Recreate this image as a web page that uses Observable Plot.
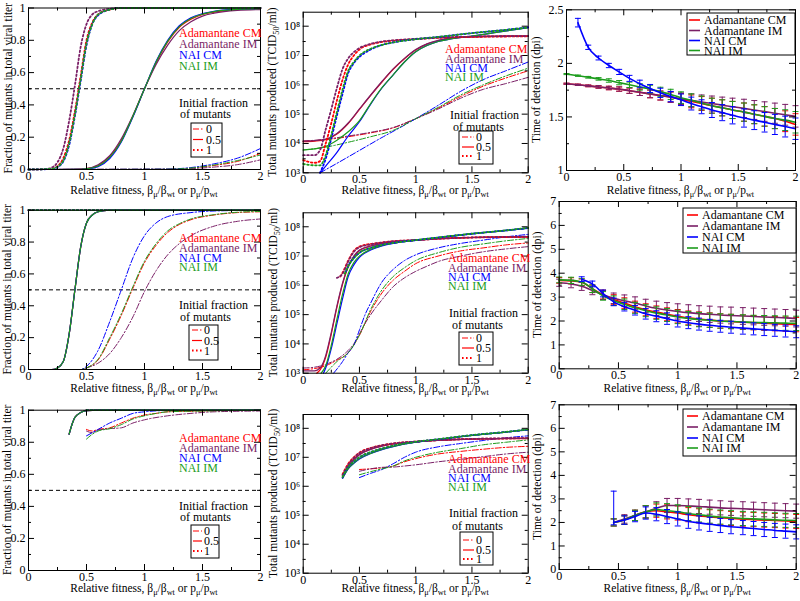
<!DOCTYPE html>
<html>
<head>
<meta charset="utf-8">
<script src="https://cdn.jsdelivr.net/npm/d3@7"></script>
<script src="https://cdn.jsdelivr.net/npm/@observablehq/plot@0.6"></script>
<style>
  html, body { margin:0; padding:0; background:#fff; }
  #chart { position:relative; width:800px; height:601px; overflow:hidden; background:#fff; }
  #chart svg { position:absolute; font-family: "Liberation Serif", "DejaVu Serif", "Times New Roman", serif; }
  #chart svg text, #chart svg tspan { font-family: "Liberation Serif", "DejaVu Serif", "Times New Roman", serif; }
</style>
</head>
<body>
<div id="chart"></div>
<script>
// ---------------- categories / tick labels ----------------
const seriesNames = ["Adamantane CM", "Adamantane IM", "NAI CM", "NAI IM"];
const seriesColors = ["#ff0000", "#7a1f66", "#0000ff", "#1c9c1c"];
const initialFractions = ["0", "0.5", "1"];

const xTicks = [0, 0.5, 1, 1.5, 2];
const xMinorTicks = [0.25, 0.75, 1.25, 1.75];
const fracTicks = [0, 0.2, 0.4, 0.6, 0.8, 1];
const fracMinorTicks = [0.1, 0.3, 0.5, 0.7, 0.9];
const logTicks = [1e3, 1e4, 1e5, 1e6, 1e7, 1e8];
const logMinorTicks = [3e3, 3e4, 3e5, 3e6, 3e7];
const detTicksA = [1, 1.5, 2, 2.5];
const detMinorTicksA = [1.25, 1.75, 2.25];
const detTicksB = [0, 1, 2, 3, 4, 5, 6, 7];
const detMinorTicksB = [0.5, 1.5, 2.5, 3.5, 4.5, 5.5, 6.5];
const supDigits = {3: "³", 4: "⁴", 5: "⁵", 6: "⁶", 7: "⁷", 8: "⁸"};

// ---------------- data: fraction of mutants (row 1) ----------------
// order in each array: [Adamantane CM, Adamantane IM, NAI CM, NAI IM]
const p1_f1 = [
  [[0,0],[0.2,0.005],[0.25,0.02],[0.3,0.07],[0.35,0.18],[0.4,0.36],[0.45,0.58],[0.5,0.8],[0.55,0.91],[0.6,0.96],[0.7,0.99],[0.8,1],[2,1]],
  [[0,0],[0.15,0.003],[0.2,0.012],[0.25,0.045],[0.3,0.13],[0.35,0.3],[0.4,0.52],[0.45,0.76],[0.5,0.9],[0.55,0.96],[0.6,0.98],[0.7,0.995],[0.8,1],[2,1]],
  [[0,0],[0.2,0.003],[0.25,0.015],[0.3,0.05],[0.35,0.15],[0.4,0.33],[0.45,0.55],[0.5,0.77],[0.55,0.9],[0.6,0.955],[0.7,0.99],[0.8,1],[2,1]],
  [[0,0],[0.2,0.004],[0.25,0.017],[0.3,0.055],[0.35,0.16],[0.4,0.34],[0.45,0.56],[0.5,0.78],[0.55,0.9],[0.6,0.96],[0.7,0.99],[0.8,1],[2,1]]
];
const p1_f05 = [
  [[0,0],[0.4,0.0005],[0.5,0.005],[0.6,0.025],[0.7,0.08],[0.8,0.18],[0.9,0.33],[1.0,0.5],[1.1,0.66],[1.2,0.79],[1.3,0.88],[1.4,0.93],[1.5,0.96],[1.6,0.975],[1.8,0.99],[2,0.995]],
  [[0,0],[0.4,0.0005],[0.5,0.006],[0.6,0.03],[0.7,0.085],[0.8,0.19],[0.9,0.335],[1.0,0.5],[1.1,0.65],[1.2,0.77],[1.3,0.86],[1.4,0.915],[1.5,0.95],[1.6,0.968],[1.8,0.985],[2,0.99]],
  [[0,0],[0.4,0.0002],[0.5,0.003],[0.6,0.018],[0.7,0.068],[0.8,0.17],[0.9,0.325],[1.0,0.5],[1.1,0.67],[1.2,0.8],[1.3,0.89],[1.4,0.94],[1.5,0.965],[1.6,0.98],[1.8,0.993],[2,0.997]],
  [[0,0],[0.4,0.0004],[0.5,0.004],[0.6,0.022],[0.7,0.075],[0.8,0.175],[0.9,0.33],[1.0,0.5],[1.1,0.665],[1.2,0.795],[1.3,0.885],[1.4,0.935],[1.5,0.962],[1.6,0.978],[1.8,0.991],[2,0.996]]
];
const p1_f0 = [
  [[0,0],[1.2,0.002],[1.4,0.008],[1.6,0.025],[1.8,0.05],[2,0.1]],
  [[0,0],[1.2,0.001],[1.4,0.005],[1.6,0.015],[1.8,0.03],[2,0.06]],
  [[0,0],[1.2,0.003],[1.4,0.012],[1.6,0.035],[1.8,0.07],[2,0.13]],
  [[0,0],[1.2,0.002],[1.4,0.009],[1.6,0.028],[1.8,0.055],[2,0.09]]
];

// ---------------- data: fraction of mutants (row 2) ----------------
const p4_f1_all = [[0,1],[2,1]];
const p4_f05_all = [[0,0],[0.2,0],[0.25,0.01],[0.3,0.05],[0.35,0.22],[0.4,0.5],[0.45,0.77],[0.5,0.92],[0.55,0.97],[0.6,0.99],[0.7,1],[2,1]];
const p4_f0 = [
  [[0,0],[0.45,0],[0.5,0.01],[0.6,0.06],[0.7,0.19],[0.8,0.34],[0.9,0.51],[1.0,0.67],[1.1,0.78],[1.2,0.86],[1.3,0.91],[1.4,0.94],[1.6,0.97],[1.8,0.985],[2,0.99]],
  [[0,0],[0.45,0],[0.5,0.01],[0.6,0.04],[0.7,0.1],[0.8,0.2],[0.9,0.33],[1.0,0.49],[1.1,0.62],[1.2,0.72],[1.3,0.79],[1.4,0.84],[1.6,0.9],[1.8,0.93],[2,0.945]],
  [[0,0],[0.45,0],[0.5,0.02],[0.6,0.12],[0.7,0.3],[0.8,0.5],[0.9,0.7],[1.0,0.84],[1.1,0.92],[1.2,0.96],[1.4,0.985],[1.6,0.995],[2,1]],
  [[0,0],[0.45,0],[0.5,0.01],[0.6,0.065],[0.7,0.2],[0.8,0.35],[0.9,0.52],[1.0,0.68],[1.1,0.79],[1.2,0.87],[1.3,0.915],[1.4,0.945],[1.6,0.972],[1.8,0.987],[2,0.992]]
];

// ---------------- data: fraction of mutants (row 3) ----------------
const p7_f1_all = [[0.5,1],[2,1]];
const p7_f05_all = [[0.35,0.85],[0.37,0.9],[0.4,0.955],[0.45,0.985],[0.5,0.997],[0.6,1],[2,1]];
const p7_f0 = [
  [[0.5,0.88],[0.55,0.87],[0.6,0.88],[0.7,0.89],[0.8,0.92],[0.9,0.95],[1.0,0.97],[1.1,0.98],[1.2,0.99],[1.5,0.995],[2,1]],
  [[0.5,0.87],[0.55,0.86],[0.6,0.875],[0.7,0.885],[0.8,0.89],[0.9,0.92],[1.0,0.94],[1.2,0.965],[1.4,0.98],[1.6,0.99],[2,0.995]],
  [[0.5,0.84],[0.55,0.86],[0.6,0.88],[0.7,0.92],[0.8,0.95],[0.9,0.98],[1.0,0.99],[1.2,0.998],[2,1]],
  [[0.5,0.82],[0.55,0.85],[0.6,0.87],[0.7,0.885],[0.8,0.91],[0.9,0.945],[1.0,0.965],[1.1,0.98],[1.2,0.99],[1.5,0.995],[2,1]]
];

// ---------------- data: total mutants produced (row 1) ----------------
const p2_f1 = [
  [[0,2.7e3],[0.1,2.2e3],[0.15,2.5e3],[0.2,1e4],[0.25,5e4],[0.3,3e5],[0.35,1.5e6],[0.4,5e6],[0.45,1e7],[0.5,1.6e7],[0.6,2.4e7],[0.7,2.9e7],[0.8,3.2e7],[1.0,3.6e7],[1.2,4e7],[1.5,4.3e7],[2,4.5e7]],
  [[0,4e3],[0.1,4e3],[0.15,6e3],[0.2,3e4],[0.25,1.5e5],[0.3,8e5],[0.35,3.5e6],[0.4,8e6],[0.45,1.3e7],[0.5,1.8e7],[0.6,2.5e7],[0.7,3e7],[0.8,3.3e7],[1.0,3.7e7],[1.2,4.1e7],[1.5,4.4e7],[2,4.6e7]],
  [[0.15,1e3],[0.2,3e3],[0.25,1.5e4],[0.3,9e4],[0.35,5e5],[0.4,2.5e6],[0.45,5.5e6],[0.5,9e6],[0.6,1.6e7],[0.7,2.3e7],[0.8,2.8e7],[1.0,3.6e7],[1.2,4.3e7],[1.5,5.8e7],[1.8,7.5e7],[2,9.2e7]],
  [[0,2e3],[0.1,1.8e3],[0.15,1.8e3],[0.2,4e3],[0.25,2e4],[0.3,1.2e5],[0.35,7e5],[0.4,3e6],[0.45,6e6],[0.5,1e7],[0.6,1.7e7],[0.7,2.3e7],[0.8,2.8e7],[1.0,3.6e7],[1.2,4.3e7],[1.5,5.8e7],[1.8,7.5e7],[2,9e7]]
];
const p2_f05 = [
  [[0,1.15e4],[0.1,1.2e4],[0.2,1.35e4],[0.3,2.1e4],[0.4,4.8e4],[0.5,1.45e5],[0.6,4.4e5],[0.7,1.25e6],[0.8,3.4e6],[0.9,7.8e6],[1.0,1.55e7],[1.1,2.45e7],[1.2,3.2e7],[1.3,3.8e7],[1.5,4.3e7],[1.7,4.5e7],[2,4.6e7]],
  [[0,1.2e4],[0.1,1.25e4],[0.2,1.4e4],[0.3,2.2e4],[0.4,5e4],[0.5,1.5e5],[0.6,4.5e5],[0.7,1.3e6],[0.8,3.5e6],[0.9,8e6],[1.0,1.6e7],[1.1,2.5e7],[1.2,3.3e7],[1.3,3.9e7],[1.5,4.4e7],[1.7,4.6e7],[2,4.7e7]],
  [[0.15,1e3],[0.2,1.7e3],[0.3,5e3],[0.4,1.8e4],[0.5,5.5e4],[0.6,2.2e5],[0.7,7.8e5],[0.8,2.2e6],[0.9,6e6],[1.0,1.35e7],[1.1,2.2e7],[1.2,3e7],[1.3,3.6e7],[1.5,4.6e7],[1.7,6e7],[2,9e7]],
  [[0,6e3],[0.1,6.5e3],[0.2,8e3],[0.3,1.3e4],[0.4,2.5e4],[0.5,6e4],[0.6,2.3e5],[0.7,8e5],[0.8,2.2e6],[0.9,6e6],[1.0,1.35e7],[1.1,2.2e7],[1.2,3e7],[1.3,3.6e7],[1.5,4.6e7],[1.7,6e7],[2,9e7]]
];
const p2_f0 = [
  [[0,1.2e4],[0.2,1.35e4],[0.4,1.7e4],[0.6,2.3e4],[0.8,3.4e4],[1.0,7e4],[1.2,1.6e5],[1.4,4e5],[1.6,9e5],[1.8,1.7e6],[2,3e6]],
  [[0,1.2e4],[0.2,1.4e4],[0.4,1.8e4],[0.6,2.4e4],[0.8,3.5e4],[1.0,7e4],[1.2,1.5e5],[1.4,3.5e5],[1.6,7e5],[1.8,1.1e6],[2,1.8e6]],
  [[0.15,1e3],[0.3,2.1e3],[0.5,5.8e3],[0.7,1.6e4],[0.85,3.3e4],[1.0,7e4],[1.2,2e5],[1.4,6e5],[1.6,1.5e6],[1.8,3e6],[2,6e6]],
  [[0,6e3],[0.2,7.5e3],[0.4,1.1e4],[0.6,1.7e4],[0.8,2.8e4],[1.0,7e4],[1.2,1.7e5],[1.4,4.5e5],[1.6,1e6],[1.8,2e6],[2,3.7e6]]
];

// ---------------- data: total mutants produced (row 2) ----------------
const p5_f1 = [
  [[0.33,2e6],[0.35,2.7e6],[0.4,7e6],[0.45,1.5e7],[0.5,2.1e7],[0.6,2.6e7],[0.7,2.9e7],[0.8,3.2e7],[1.0,3.5e7],[1.2,3.9e7],[1.5,4.3e7],[2,4.5e7]],
  [[0.3,1.8e6],[0.35,2.5e6],[0.4,6.5e6],[0.45,1.4e7],[0.5,2e7],[0.6,2.5e7],[0.7,2.9e7],[0.8,3.2e7],[1.0,3.5e7],[1.2,3.9e7],[1.5,4.3e7],[2,4.6e7]],
  [[0.38,3e6],[0.4,4.5e6],[0.45,8.5e6],[0.5,1.3e7],[0.6,1.9e7],[0.7,2.4e7],[0.8,2.8e7],[1.0,3.5e7],[1.2,4.3e7],[1.5,5.8e7],[1.8,7.5e7],[2,9e7]],
  [[0.37,2.5e6],[0.4,4.5e6],[0.45,8.5e6],[0.5,1.3e7],[0.6,1.9e7],[0.7,2.4e7],[0.8,2.8e7],[1.0,3.5e7],[1.2,4.3e7],[1.5,5.8e7],[1.8,7.5e7],[2,9.2e7]]
];
const p5_f05 = [
  [[0.12,1e3],[0.15,1.3e3],[0.2,3.5e3],[0.25,2.2e4],[0.3,1.8e5],[0.35,1.1e6],[0.4,4.2e6],[0.45,9.5e6],[0.5,1.55e7],[0.6,2.2e7],[0.7,2.7e7],[0.8,3e7],[1.0,3.5e7],[1.2,3.9e7],[1.5,4.3e7],[2,4.5e7]],
  [[0,1.2e3],[0.1,1.2e3],[0.15,1.5e3],[0.2,4e3],[0.25,2.5e4],[0.3,2e5],[0.35,1.2e6],[0.4,4.5e6],[0.45,1e7],[0.5,1.6e7],[0.6,2.2e7],[0.7,2.7e7],[0.8,3e7],[1.0,3.5e7],[1.2,3.9e7],[1.5,4.3e7],[2,4.6e7]],
  [[0.18,1e3],[0.2,1.5e3],[0.25,7e3],[0.3,5e4],[0.35,3.5e5],[0.4,2e6],[0.45,5e6],[0.5,9e6],[0.6,1.6e7],[0.7,2.2e7],[0.8,2.7e7],[1.0,3.4e7],[1.2,4.2e7],[1.5,5.7e7],[1.8,7.4e7],[2,9e7]],
  [[0.16,1e3],[0.2,1.8e3],[0.25,9e3],[0.3,7e4],[0.35,5e5],[0.4,2.5e6],[0.45,6e6],[0.5,1e7],[0.6,1.7e7],[0.7,2.3e7],[0.8,2.8e7],[1.0,3.5e7],[1.2,4.3e7],[1.5,5.8e7],[1.8,7.5e7],[2,9e7]]
];
const p5_f0 = [
  [[0,1.3e3],[0.2,1.8e3],[0.3,2.8e3],[0.4,5e3],[0.5,2e4],[0.6,1.3e5],[0.7,5.5e5],[0.8,1.5e6],[0.9,3e6],[1.0,5.5e6],[1.2,1e7],[1.4,1.5e7],[1.6,1.9e7],[1.8,2.4e7],[2,2.8e7]],
  [[0,1.5e3],[0.1,1.6e3],[0.2,2e3],[0.3,3e3],[0.4,6e3],[0.45,1e4],[0.5,2.2e4],[0.55,5e4],[0.6,1e5],[0.7,3.2e5],[0.8,9e5],[0.9,1.8e6],[1.0,3e6],[1.1,4.5e6],[1.2,6.5e6],[1.4,1e7],[1.6,1.4e7],[1.8,1.75e7],[2,2.1e7]],
  [[0.27,1e3],[0.35,2.5e3],[0.4,5e3],[0.45,9e3],[0.5,3e4],[0.55,1e5],[0.6,2.5e5],[0.7,1.3e6],[0.8,3.5e6],[0.9,7e6],[1.0,1.1e7],[1.2,1.9e7],[1.4,2.7e7],[1.6,3.5e7],[1.8,4.5e7],[2,5.5e7]],
  [[0.2,1e3],[0.3,2.5e3],[0.4,5e3],[0.5,2e4],[0.6,1.5e5],[0.7,7e5],[0.8,2e6],[0.9,4e6],[1.0,7e6],[1.2,1.3e7],[1.4,2e7],[1.6,2.6e7],[1.8,3.3e7],[2,4e7]]
];

// ---------------- data: total mutants produced (row 3) ----------------
const p8_f1 = [
  [[0.35,2.6e6],[0.4,6e6],[0.45,1e7],[0.5,1.45e7],[0.6,2.1e7],[0.7,2.6e7],[0.8,3e7],[1.0,3.5e7],[1.2,3.9e7],[1.5,4.3e7],[2,4.5e7]],
  [[0.35,2.4e6],[0.4,5.5e6],[0.45,9.5e6],[0.5,1.4e7],[0.6,2.05e7],[0.7,2.6e7],[0.8,3e7],[1.0,3.5e7],[1.2,3.9e7],[1.5,4.3e7],[2,4.6e7]],
  [[0.35,2e6],[0.4,4.5e6],[0.45,7e6],[0.5,1e7],[0.6,1.5e7],[0.7,2e7],[0.8,2.5e7],[1.0,3.4e7],[1.2,4.2e7],[1.5,5.8e7],[1.8,7.5e7],[2,9e7]],
  [[0.35,2.1e6],[0.4,4.6e6],[0.45,7.2e6],[0.5,1.02e7],[0.6,1.52e7],[0.7,2.02e7],[0.8,2.52e7],[1.0,3.42e7],[1.2,4.22e7],[1.5,5.82e7],[1.8,7.5e7],[2,9.2e7]]
];
const p8_f05 = [
  [[0.35,2.2e6],[0.4,5e6],[0.45,8.5e6],[0.5,1.25e7],[0.6,1.9e7],[0.7,2.45e7],[0.8,2.9e7],[1.0,3.45e7],[1.2,3.85e7],[1.5,4.25e7],[2,4.5e7]],
  [[0.35,2.1e6],[0.4,4.8e6],[0.45,8.2e6],[0.5,1.22e7],[0.6,1.88e7],[0.7,2.42e7],[0.8,2.88e7],[1.0,3.45e7],[1.2,3.85e7],[1.5,4.25e7],[2,4.55e7]],
  [[0.35,1.9e6],[0.4,4e6],[0.45,6.2e6],[0.5,8.8e6],[0.6,1.35e7],[0.7,1.85e7],[0.8,2.35e7],[1.0,3.3e7],[1.2,4.1e7],[1.5,5.7e7],[1.8,7.4e7],[2,9e7]],
  [[0.35,1.9e6],[0.4,4.1e6],[0.45,6.3e6],[0.5,9e6],[0.6,1.37e7],[0.7,1.87e7],[0.8,2.37e7],[1.0,3.32e7],[1.2,4.12e7],[1.5,5.72e7],[1.8,7.4e7],[2,9e7]]
];
const p8_f0 = [
  [[0.5,3.8e6],[0.6,4e6],[0.7,4.3e6],[0.8,5e6],[0.9,7e6],[1.0,9e6],[1.2,1.3e7],[1.4,1.6e7],[1.6,1.9e7],[1.8,2.2e7],[2,2.4e7]],
  [[0.5,3.3e6],[0.6,4e6],[0.7,4.5e6],[0.8,4.6e6],[0.9,5e6],[1.0,5.5e6],[1.2,7e6],[1.4,8.5e6],[1.6,1.05e7],[1.8,1.3e7],[2,1.5e7]],
  [[0.5,2e6],[0.6,2.8e6],[0.7,3.8e6],[0.8,6e6],[0.9,1e7],[1.0,1.5e7],[1.2,2.3e7],[1.4,3e7],[1.6,3.8e7],[1.8,4.7e7],[2,5.5e7]],
  [[0.5,2.5e6],[0.6,3.2e6],[0.7,4e6],[0.8,5e6],[0.9,7.5e6],[1.0,1e7],[1.2,1.5e7],[1.4,2e7],[1.6,2.7e7],[1.8,3.3e7],[2,4e7]]
];

// ---------------- data: time of detection ----------------
const detX = [0,0.1,0.19,0.28,0.37,0.46,0.55,0.64,0.73,0.82,0.91,1.0,1.09,1.18,1.27,1.36,1.45,1.55,1.64,1.73,1.82,1.91,2.0];
const _ = null;
const p3_y = [
  [1.81,1.80,1.79,1.78,1.77,1.76,1.745,1.73,1.715,1.70,1.685,1.665,1.645,1.625,1.605,1.585,1.565,1.545,1.525,1.505,1.485,1.46,1.43],
  [1.81,1.80,1.79,1.78,1.77,1.76,1.745,1.73,1.715,1.70,1.685,1.67,1.655,1.64,1.625,1.61,1.595,1.58,1.565,1.55,1.535,1.52,1.505],
  [_,2.38,2.15,2.05,1.98,1.92,1.86,1.81,1.765,1.725,1.69,1.66,1.625,1.595,1.565,1.54,1.515,1.49,1.47,1.45,1.43,1.41,1.39],
  [1.90,1.885,1.87,1.855,1.84,1.82,1.80,1.78,1.76,1.735,1.71,1.68,1.655,1.63,1.605,1.585,1.565,1.545,1.525,1.505,1.485,1.47,1.45]
];
const p3_err = [
  [0.005,0.006,0.008,0.012,0.016,0.02,0.025,0.03,0.036,0.042,0.048,0.054,0.06,0.065,0.07,0.075,0.08,0.085,0.088,0.091,0.094,0.097,0.1],
  [0.005,0.006,0.008,0.012,0.016,0.02,0.025,0.03,0.036,0.042,0.048,0.054,0.06,0.065,0.07,0.075,0.08,0.085,0.088,0.091,0.094,0.097,0.1],
  [_,0.04,0.02,0.018,0.02,0.024,0.028,0.033,0.038,0.043,0.048,0.054,0.06,0.065,0.07,0.075,0.08,0.085,0.088,0.091,0.094,0.097,0.1],
  [0.005,0.006,0.008,0.012,0.016,0.02,0.025,0.03,0.036,0.042,0.048,0.054,0.06,0.065,0.07,0.075,0.08,0.085,0.088,0.091,0.094,0.097,0.1]
];
const p6_y = [
  [3.7,3.68,3.62,3.35,3.1,2.9,2.75,2.6,2.47,2.37,2.28,2.2,2.13,2.08,2.04,2.0,1.98,1.95,1.93,1.91,1.89,1.87,1.85],
  [3.6,3.55,3.45,3.28,3.1,2.95,2.85,2.75,2.63,2.53,2.46,2.4,2.35,2.31,2.28,2.25,2.23,2.21,2.19,2.17,2.15,2.13,2.1],
  [_,_,3.75,3.55,3.15,2.8,2.6,2.45,2.3,2.2,2.1,2.0,1.93,1.87,1.82,1.78,1.74,1.7,1.67,1.64,1.61,1.58,1.55],
  [3.72,3.7,3.63,3.35,3.05,2.85,2.7,2.55,2.43,2.33,2.25,2.17,2.11,2.06,2.03,2.0,1.98,1.96,1.94,1.93,1.92,1.91,1.9]
];
const p6_err = [
  [0.12,0.13,0.14,0.16,0.18,0.2,0.22,0.23,0.25,0.26,0.27,0.28,0.29,0.3,0.3,0.3,0.3,0.3,0.3,0.3,0.3,0.3,0.3],
  [0.15,0.16,0.17,0.18,0.2,0.22,0.24,0.26,0.28,0.3,0.31,0.32,0.33,0.33,0.34,0.34,0.35,0.35,0.35,0.35,0.35,0.35,0.35],
  [_,_,0.1,0.12,0.14,0.16,0.18,0.2,0.22,0.23,0.24,0.25,0.25,0.25,0.25,0.25,0.25,0.25,0.25,0.25,0.25,0.25,0.25],
  [0.12,0.13,0.14,0.16,0.18,0.2,0.22,0.23,0.25,0.26,0.27,0.28,0.29,0.3,0.3,0.3,0.3,0.3,0.3,0.3,0.3,0.3,0.3]
];
const p9_y = [
  [_,_,_,_,_,2.0,2.1,2.3,2.45,2.5,2.45,2.4,2.33,2.28,2.24,2.2,2.17,2.14,2.12,2.1,2.08,2.06,2.04],
  [_,_,_,_,_,2.0,2.15,2.3,2.45,2.6,2.72,2.72,2.7,2.68,2.65,2.62,2.6,2.58,2.56,2.54,2.52,2.5,2.48],
  [_,_,_,_,_,2.0,2.1,2.25,2.4,2.35,2.25,2.15,2.05,1.98,1.92,1.87,1.82,1.78,1.74,1.7,1.66,1.63,1.6],
  [_,_,_,_,_,2.0,2.1,2.3,2.45,2.55,2.5,2.45,2.38,2.32,2.27,2.23,2.2,2.17,2.15,2.13,2.11,2.09,2.08]
];
const p9_err = [
  [_,_,_,_,_,0.15,0.18,0.22,0.26,0.28,0.3,0.3,0.3,0.3,0.3,0.3,0.3,0.3,0.3,0.3,0.3,0.3,0.3],
  [_,_,_,_,_,0.15,0.18,0.22,0.26,0.28,0.3,0.3,0.3,0.3,0.3,0.3,0.3,0.3,0.3,0.3,0.3,0.3,0.3],
  [_,_,_,_,_,[0.1,1.33],0.18,0.22,0.26,0.28,0.3,0.3,0.3,0.3,0.3,0.3,0.3,0.3,0.3,0.3,0.3,0.3,0.3],
  [_,_,_,_,_,0.15,0.18,0.22,0.26,0.28,0.3,0.3,0.3,0.3,0.3,0.3,0.3,0.3,0.3,0.3,0.3,0.3,0.3]
];

// ---------------- drawing ----------------
const FONT = '"Liberation Serif", "DejaVu Serif", "Times New Roman", serif';
const lineStyles = {
  "0":   {strokeWidth: 1,   strokeDasharray: "6,2,1.5,2"},
  "0.5": {strokeWidth: 1.2, strokeDasharray: undefined},
  "1":   {strokeWidth: 1.8, strokeDasharray: "1.6,2.4"}
};
const capSymbol = {draw(ctx, size) { const w = Math.sqrt(size / Math.PI); ctx.moveTo(-w, 0); ctx.lineTo(w, 0); }};
const supFmt = d => "10" + supDigits[Math.round(Math.log10(d))];
const plainFmt = d => String(d);

function richText(t, parts) {
  let shift = 0;
  for (const [s, kind] of parts) {
    const target = kind === "sub" ? 3 : 0;
    const ts = t.append("tspan").attr("dy", target - shift).text(s);
    if (kind === "sub") ts.attr("font-size", "0.72em");
    shift = target;
  }
}

function panel(cfg) {
  const [L, T, W, H] = cfg.cell;
  const [fx0, fx1] = cfg.fx, [fy0, fy1] = cfg.fy;
  const fw = fx1 - fx0, fh = fy1 - fy0;
  const MAJ = 6, MIN = 3;
  const marks = [];
  if (cfg.refLine != null) marks.push(Plot.ruleY([cfg.refLine], {stroke: "black", strokeWidth: 1, strokeDasharray: "4,3"}));
  const order = [0, 1, 2, 3];
  for (const grp of (cfg.groups || [])) {
    for (const i of order) {
      const st = lineStyles[grp.frac];
      marks.push(Plot.line(grp.data[i], {x: d => d[0], y: d => d[1], stroke: seriesColors[i],
        strokeWidth: st.strokeWidth, strokeDasharray: st.strokeDasharray, curve: "monotone-x"}));
    }
  }
  if (cfg.det) {
    const drawOrder = [0, 1, 3, 2];
    for (const i of drawOrder) {
      const pts = [];
      detX.forEach((x, k) => {
        const y = cfg.det.y[i][k], e = cfg.det.err[i][k];
        if (y == null) return;
        const lo = Array.isArray(e) ? e[0] : e, hi = Array.isArray(e) ? e[1] : e;
        pts.push({x, y, lo: y - lo, hi: y + hi});
      });
      marks.push(Plot.ruleX(pts, {x: "x", y1: "lo", y2: "hi", stroke: seriesColors[i], strokeWidth: 1}));
      marks.push(Plot.dot(pts, {x: "x", y: "lo", symbol: capSymbol, r: 3, stroke: seriesColors[i], fill: "none", strokeWidth: 1}));
      marks.push(Plot.dot(pts, {x: "x", y: "hi", symbol: capSymbol, r: 3, stroke: seriesColors[i], fill: "none", strokeWidth: 1}));
      marks.push(Plot.line(pts, {x: "x", y: "y", stroke: seriesColors[i], strokeWidth: 1.6, curve: "monotone-x"}));
    }
  }
  // inward ticks on all four sides
  marks.push(
    Plot.ruleX(xTicks, {insetTop: fh - MAJ, stroke: "black"}),
    Plot.ruleX(xTicks, {insetBottom: fh - MAJ, stroke: "black"}),
    Plot.ruleX(xMinorTicks, {insetTop: fh - MIN, stroke: "black"}),
    Plot.ruleX(xMinorTicks, {insetBottom: fh - MIN, stroke: "black"}),
    Plot.ruleY(cfg.y.ticks, {insetRight: fw - MAJ, stroke: "black"}),
    Plot.ruleY(cfg.y.ticks, {insetLeft: fw - MAJ, stroke: "black"}),
    Plot.ruleY(cfg.y.minor, {insetRight: fw - MIN, stroke: "black"}),
    Plot.ruleY(cfg.y.minor, {insetLeft: fw - MIN, stroke: "black"}),
    Plot.frame({stroke: "black", strokeWidth: 1})
  );
  const yOpts = {domain: cfg.y.domain, ticks: cfg.y.ticks, tickSize: 0, tickPadding: 3, label: null,
                 tickFormat: cfg.y.format || plainFmt};
  if (cfg.y.type) yOpts.type = cfg.y.type;
  const svg = Plot.plot({
    width: W, height: H,
    marginLeft: fx0 - L, marginRight: L + W - fx1, marginTop: fy0 - T, marginBottom: T + H - fy1,
    x: {domain: [0, 2], ticks: xTicks, tickSize: 0, tickPadding: 2, label: null, tickFormat: plainFmt},
    y: yOpts,
    style: {fontSize: "12px", color: "black", background: "transparent", overflow: "visible"},
    marks
  });
  svg.setAttribute("font-family", FONT);
  svg.setAttribute("font-size", "12");
  svg.style.position = "absolute";
  svg.style.left = L + "px";
  svg.style.top = T + "px";
  document.getElementById("chart").appendChild(svg);
  const g = d3.select(svg).append("g").attr("transform", `translate(${-L},${-T})`)
    .attr("font-family", FONT).attr("fill", "black").attr("text-anchor", "start");

  // axis titles
  const xl = g.append("text").attr("x", (fx0 + fx1) / 2).attr("y", cfg.xLabelY + 4)
    .attr("text-anchor", "middle").attr("font-size", 11.5);
  richText(xl, [["Relative fitness, β"], ["μ", "sub"], ["/β"], ["wt", "sub"], [" or p"], ["μ", "sub"], ["/p"], ["wt", "sub"]]);
  const yl = g.append("text").attr("transform", `translate(${cfg.yLabelX},${(fy0 + fy1) / 2}) rotate(-90)`)
    .attr("x", 0).attr("y", 4).attr("text-anchor", "middle").attr("font-size", 11.5);
  richText(yl, cfg.yLabel);

  // legends
  if (cfg.colorLegend) {
    const {x, ys} = cfg.colorLegend;
    ys.forEach((y, i) => g.append("text").attr("x", x).attr("y", y + 4).attr("font-size", 12)
      .attr("fill", seriesColors[i]).text(seriesNames[i]));
  }
  if (cfg.fracLegend) {
    const f = cfg.fracLegend;
    g.append("text").attr("x", f.tx[0]).attr("y", f.ty[0] + 4).attr("font-size", 12).text("Initial fraction");
    g.append("text").attr("x", f.tx[1]).attr("y", f.ty[1] + 4).attr("font-size", 12).text("of mutants");
    g.append("rect").attr("x", f.box[0]).attr("y", f.box[1]).attr("width", f.box[2] - f.box[0])
      .attr("height", f.box[3] - f.box[1]).attr("fill", "white").attr("stroke", "black").attr("stroke-width", 1);
    initialFractions.forEach((lab, i) => {
      const st = lineStyles[lab];
      g.append("line").attr("x1", f.sx[0]).attr("x2", f.sx[1]).attr("y1", f.ys[i]).attr("y2", f.ys[i])
        .attr("stroke", seriesColors[0]).attr("stroke-width", st.strokeWidth)
        .attr("stroke-dasharray", st.strokeDasharray || null);
      g.append("text").attr("x", f.sx[2]).attr("y", f.ys[i] + 4).attr("font-size", 12).text(lab);
    });
  }
  if (cfg.seriesLegend) {
    const s = cfg.seriesLegend;
    g.append("rect").attr("x", s.box[0]).attr("y", s.box[1]).attr("width", s.box[2] - s.box[0])
      .attr("height", s.box[3] - s.box[1]).attr("fill", "white").attr("stroke", "black").attr("stroke-width", 1);
    seriesNames.forEach((name, i) => {
      g.append("line").attr("x1", s.sx[0]).attr("x2", s.sx[1]).attr("y1", s.ys[i]).attr("y2", s.ys[i])
        .attr("stroke", seriesColors[i]).attr("stroke-width", 1.6);
      g.append("text").attr("x", s.sx[2]).attr("y", s.ys[i] + 4).attr("font-size", 12).text(name);
    });
  }
}

const fracY = {domain: [0, 1], ticks: fracTicks, minor: fracMinorTicks};
const logY = {type: "log", domain: [1e3, 3e8], ticks: logTicks, minor: logMinorTicks, format: supFmt};
const detYA = {domain: [1, 2.5], ticks: detTicksA, minor: detMinorTicksA};
const detYB = {domain: [0, 7], ticks: detTicksB, minor: detMinorTicksB};
const fracLabel = [["Fraction of mutants in total viral titer"]];
const totLabel = [["Total mutants produced (TCID"], ["50", "sub"], ["/ml)"]];
const detLabel = [["Time of detection (dpi)"]];

// Row 1
panel({cell: [0, 0, 266, 197], fx: [28, 260], fy: [7.5, 169], y: fracY, refLine: 0.5,
  groups: [{frac: "0", data: p1_f0}, {frac: "0.5", data: p1_f05}, {frac: "1", data: p1_f1}],
  xLabelY: 190, yLabelX: 7.5, yLabel: fracLabel,
  colorLegend: {x: 179, ys: [33, 44, 55, 66]},
  fracLegend: {tx: [179, 180], ty: [103, 114], box: [191, 123, 222, 157], ys: [129, 139.5, 150], sx: [193, 203, 206]}});
panel({cell: [266, 0, 266, 197], fx: [302.7, 527.7], fy: [11.7, 172.3], y: logY,
  groups: [{frac: "0", data: p2_f0}, {frac: "0.5", data: p2_f05}, {frac: "1", data: p2_f1}],
  xLabelY: 190, yLabelX: 272, yLabel: totLabel,
  colorLegend: {x: 445, ys: [49, 58.5, 67.5, 77]},
  fracLegend: {tx: [450, 453], ty: [115, 127], box: [459, 131, 493, 164], ys: [137, 147, 156], sx: [462, 474, 476]}});
panel({cell: [532, 0, 268, 197], fx: [566, 795], fy: [9.3, 170], y: detYA,
  det: {y: p3_y, err: p3_err},
  xLabelY: 190, yLabelX: 536, yLabel: detLabel,
  seriesLegend: {box: [687, 13, 795, 55], ys: [20, 30.5, 40.5, 50.5], sx: [689, 700, 704]}});

// Row 2
panel({cell: [0, 197, 266, 200], fx: [28, 260], fy: [209.7, 369], y: fracY, refLine: 0.5,
  groups: [{frac: "0", data: p4_f0}, {frac: "0.5", data: [p4_f05_all, p4_f05_all, p4_f05_all, p4_f05_all]}, {frac: "1", data: [p4_f1_all, p4_f1_all, p4_f1_all, p4_f1_all]}],
  xLabelY: 388, yLabelX: 7, yLabel: fracLabel,
  colorLegend: {x: 179, ys: [238, 247.5, 257.5, 267]},
  fracLegend: {tx: [179, 180], ty: [305, 317], box: [189, 325, 218, 360], ys: [330, 340.5, 350.5], sx: [192, 202, 204]}});
panel({cell: [266, 197, 266, 200], fx: [302.7, 527.7], fy: [212.3, 372.7], y: logY,
  groups: [{frac: "0", data: p5_f0}, {frac: "0.5", data: p5_f05}, {frac: "1", data: p5_f1}],
  xLabelY: 388, yLabelX: 272.5, yLabel: totLabel,
  colorLegend: {x: 448, ys: [258, 268, 277, 286]},
  fracLegend: {tx: [449, 452], ty: [313, 325], box: [459, 332, 493, 365], ys: [338, 348, 358], sx: [462, 474, 476]}});
panel({cell: [532, 197, 268, 200], fx: [558.7, 795.7], fy: [201, 368.3], y: detYB,
  det: {y: p6_y, err: p6_err},
  xLabelY: 388, yLabelX: 537, yLabel: detLabel,
  seriesLegend: {box: [683, 208, 796, 253], ys: [215, 226, 237, 248], sx: [687, 698, 702]}});

// Row 3
panel({cell: [0, 397, 266, 204], fx: [28, 260], fy: [409.7, 570], y: fracY, refLine: 0.5,
  groups: [{frac: "0", data: p7_f0}, {frac: "0.5", data: [p7_f05_all, p7_f05_all, p7_f05_all, p7_f05_all]}, {frac: "1", data: [p7_f1_all, p7_f1_all, p7_f1_all, p7_f1_all]}],
  xLabelY: 588, yLabelX: 7, yLabel: fracLabel,
  colorLegend: {x: 179, ys: [438, 447.5, 458, 468]},
  fracLegend: {tx: [179, 180], ty: [506, 517], box: [191, 525, 219, 558], ys: [531, 541, 551], sx: [193, 202, 204]}});
panel({cell: [266, 397, 266, 204], fx: [302.7, 527.7], fy: [414, 572.7], y: logY,
  groups: [{frac: "0", data: p8_f0}, {frac: "0.5", data: p8_f05}, {frac: "1", data: p8_f1}],
  xLabelY: 588, yLabelX: 272.5, yLabel: totLabel,
  colorLegend: {x: 448, ys: [459, 469, 478, 487]},
  fracLegend: {tx: [449, 452], ty: [513, 526], box: [460, 532, 493, 565], ys: [540, 550, 559], sx: [463, 474, 476]}});
panel({cell: [532, 397, 268, 204], fx: [558.7, 795.7], fy: [404.3, 569], y: detYB,
  det: {y: p9_y, err: p9_err},
  xLabelY: 588, yLabelX: 537, yLabel: detLabel,
  seriesLegend: {box: [683, 409, 796, 456], ys: [416, 427, 438, 448], sx: [687, 698, 702]}});
</script>
</body>
</html>
